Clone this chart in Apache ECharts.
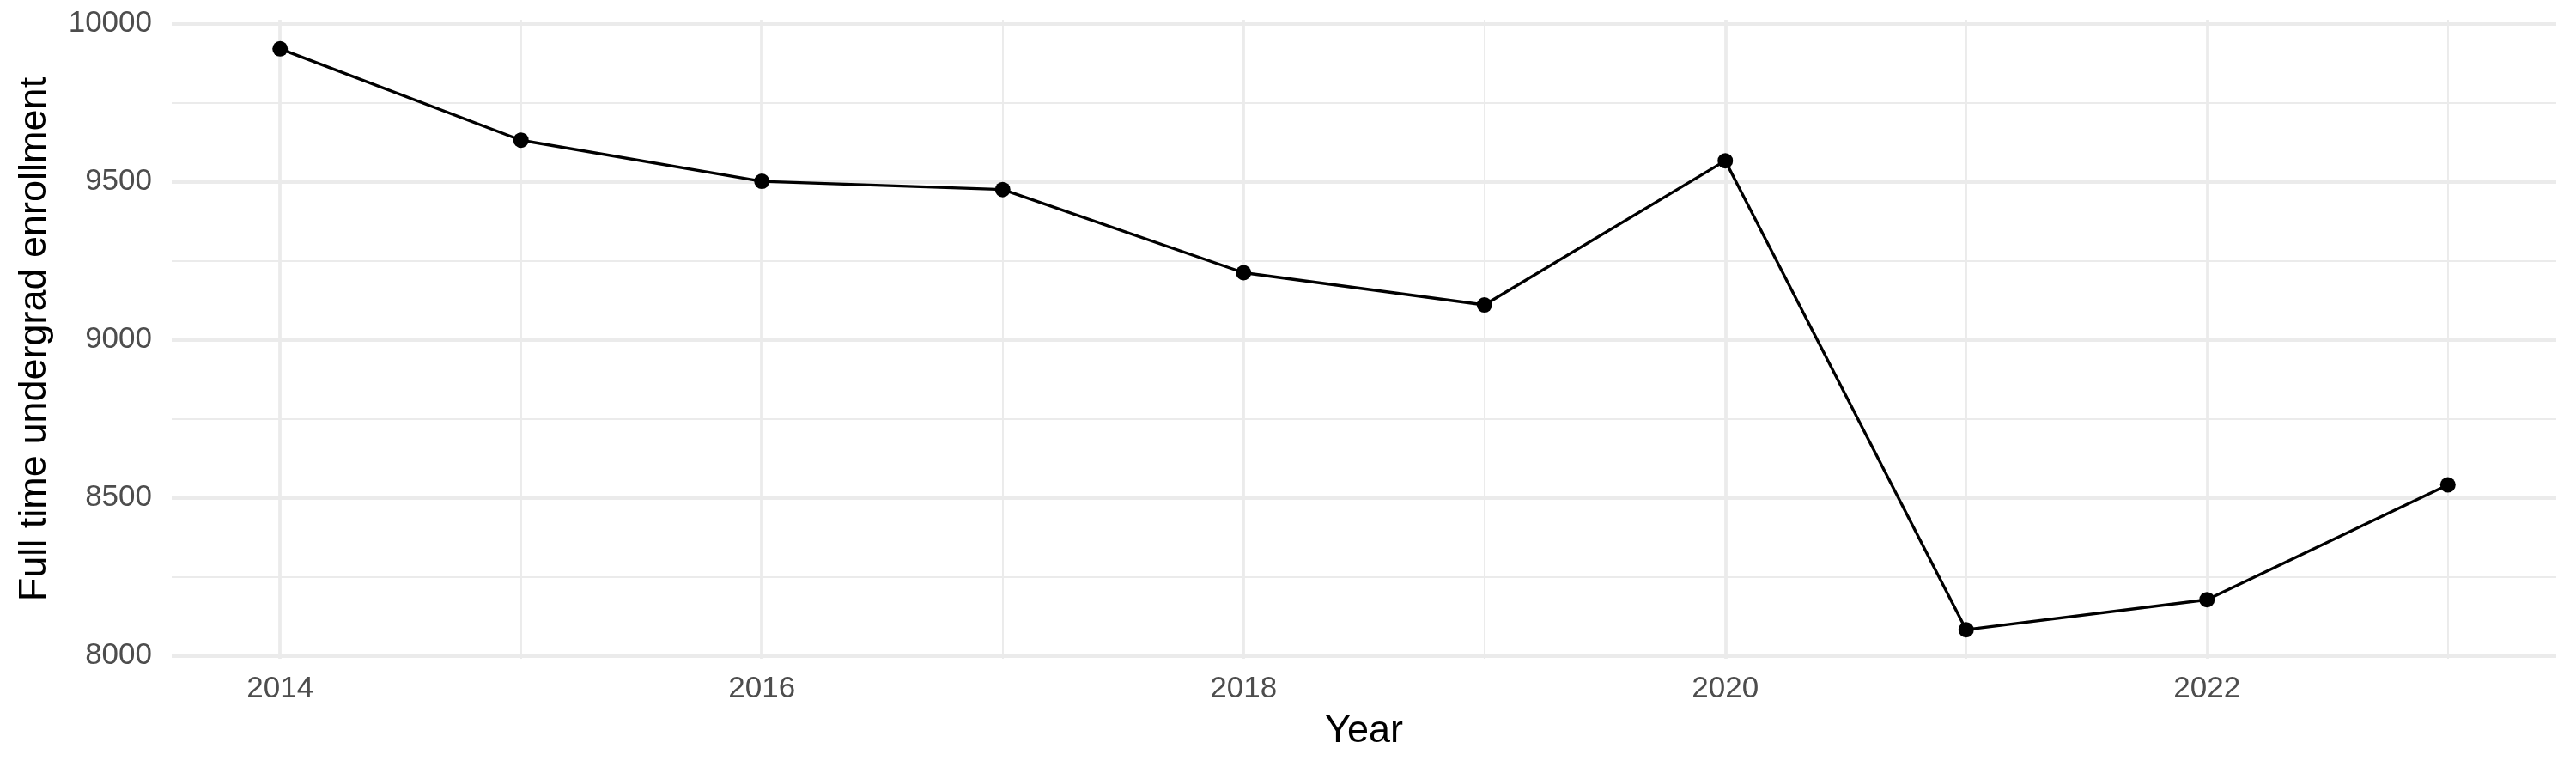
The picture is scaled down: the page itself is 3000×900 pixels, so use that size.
<!DOCTYPE html>
<html>
<head>
<meta charset="utf-8">
<script src="https://cdn.jsdelivr.net/npm/echarts@6/dist/echarts.min.js"></script>
<style>
  html, body { margin: 0; padding: 0; background: #ffffff; }
  #chart { width: 3000px; height: 900px; }
</style>
</head>
<body>
<div id="chart"></div>
<script>
const years = [2014, 2015, 2016, 2017, 2018, 2019, 2020, 2021, 2022, 2023];
const enrollment = [9920, 9631, 9501, 9475, 9212, 9110, 9566, 8083, 8178, 8541];
const xTickLabels = [2014, 2016, 2018, 2020, 2022];
const yTickLabels = [8000, 8500, 9000, 9500, 10000];
const yMinorGrid = [8250, 8750, 9250, 9750];
const xMinorGrid = [2015, 2017, 2019, 2021, 2023];

// ggplot-style 5% expansion
const xSpan = years[years.length - 1] - years[0];
const xMin = years[0] - 0.05 * xSpan;
const xMax = years[years.length - 1] + 0.05 * xSpan;
const yLo = Math.min(...enrollment), yHi = Math.max(...enrollment);
const ySpan = yHi - yLo;
const yMin = yLo - 0.05 * ySpan;
const yMax = yHi + 0.05 * ySpan;

const GRID = '#ebebeb';
const majorW = 3.8, minorW = 1.9;

const gridLines = [];
xTickLabels.forEach(v => gridLines.push({ xAxis: v, lineStyle: { width: majorW, color: GRID, type: 'solid' } }));
xMinorGrid.forEach(v => gridLines.push({ xAxis: v, lineStyle: { width: minorW, color: GRID, type: 'solid' } }));
yTickLabels.forEach(v => gridLines.push({ yAxis: v, lineStyle: { width: majorW, color: GRID, type: 'solid' } }));
yMinorGrid.forEach(v => gridLines.push({ yAxis: v, lineStyle: { width: minorW, color: GRID, type: 'solid' } }));

const FONT = 'Liberation Sans, Arial, sans-serif';
const chart = echarts.init(document.getElementById('chart'), null, { renderer: 'canvas' });
chart.setOption({
  animation: false,
  backgroundColor: '#ffffff',
  textStyle: { fontFamily: FONT },
  grid: { left: 200, right: 23, top: 23, bottom: 133, containLabel: false },
  xAxis: {
    type: 'value', min: xMin, max: xMax,
    name: 'Year', nameLocation: 'middle', nameGap: 62,
    nameTextStyle: { fontSize: 45, color: '#000000', fontFamily: FONT },
    axisLine: { show: false }, axisTick: { show: false }, splitLine: { show: false },
    axisLabel: { customValues: xTickLabels, fontSize: 35, color: '#4d4d4d', margin: 18, fontFamily: FONT, formatter: v => String(v) }
  },
  yAxis: {
    type: 'value', min: yMin, max: yMax,
    name: 'Full time undergrad enrollment', nameLocation: 'middle', nameRotate: 90, nameGap: 137,
    nameTextStyle: { fontSize: 45, color: '#000000', fontFamily: FONT },
    axisLine: { show: false }, axisTick: { show: false }, splitLine: { show: false },
    axisLabel: { customValues: yTickLabels, fontSize: 35, color: '#4d4d4d', margin: 23, fontFamily: FONT, formatter: v => String(v) }
  },
  series: [
    {
      name: 'gridlines', type: 'line', z: 1, silent: true,
      data: years.map((y, i) => [y, enrollment[i]]),
      showSymbol: false, lineStyle: { width: 0, opacity: 0 },
      markLine: { silent: true, symbol: ['none', 'none'], label: { show: false }, emphasis: { disabled: true }, animation: false, data: gridLines }
    },
    {
      name: 'enrollment', type: 'line', z: 5,
      data: years.map((y, i) => [y, enrollment[i]]),
      symbol: 'circle', symbolSize: 18, showSymbol: true,
      itemStyle: { color: '#000000' },
      lineStyle: { color: '#000000', width: 3.4 }
    }
  ]
});
</script>
</body>
</html>
